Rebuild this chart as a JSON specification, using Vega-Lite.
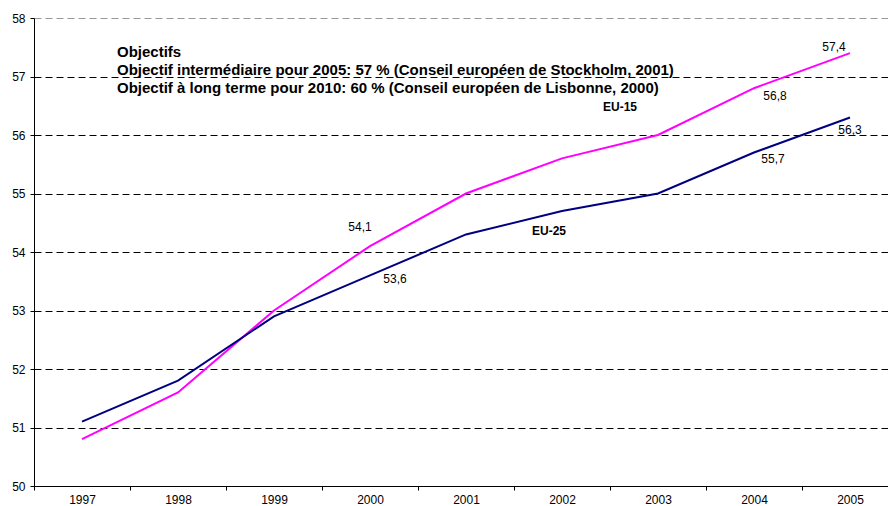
{
  "$schema": "https://vega.github.io/schema/vega-lite/v6.json",
  "autosize": {"type": "none"},
  "padding": {"left": 34, "top": 18, "right": 0, "bottom": 20},
  "width": 864,
  "height": 468,
  "background": "white",
  "config": {
    "view": {"stroke": null},
    "font": "Liberation Sans",
    "locale": {"number": {"decimal": ",", "thousands": " ", "grouping": [3], "currency": ["", " €"]}},
    "axis": {"labelFont": "Liberation Sans", "labelFontSize": 12, "labelColor": "#000", "domainColor": "#000", "tickColor": "#000", "title": null}
  },
  "data": {"values": [
    {"year": "1997", "series": "EU-15", "value": 50.8},
    {"year": "1998", "series": "EU-15", "value": 51.6},
    {"year": "1999", "series": "EU-15", "value": 53.0},
    {"year": "2000", "series": "EU-15", "value": 54.1},
    {"year": "2001", "series": "EU-15", "value": 55.0},
    {"year": "2002", "series": "EU-15", "value": 55.6},
    {"year": "2003", "series": "EU-15", "value": 56.0},
    {"year": "2004", "series": "EU-15", "value": 56.8},
    {"year": "2005", "series": "EU-15", "value": 57.4},
    {"year": "1997", "series": "EU-25", "value": 51.1},
    {"year": "1998", "series": "EU-25", "value": 51.8},
    {"year": "1999", "series": "EU-25", "value": 52.9},
    {"year": "2000", "series": "EU-25", "value": 53.6},
    {"year": "2001", "series": "EU-25", "value": 54.3},
    {"year": "2002", "series": "EU-25", "value": 54.7},
    {"year": "2003", "series": "EU-25", "value": 55.0},
    {"year": "2004", "series": "EU-25", "value": 55.7},
    {"year": "2005", "series": "EU-25", "value": 56.3}
  ]},
  "encoding": {
    "x": {"field": "year", "type": "ordinal", "scale": {"type": "band", "paddingInner": 0, "paddingOuter": 0},
          "axis": {"labelAngle": 0, "tickBand": "extent", "tickSize": 4, "labelPadding": 4, "grid": false}},
    "y": {"field": "value", "type": "quantitative", "scale": {"domain": [50, 58], "nice": false, "zero": false},
          "axis": {"values": [50, 51, 52, 53, 54, 55, 56, 57, 58], "format": "d", "tickSize": 4, "labelPadding": 5, "grid": true, "gridDash": [7, 4],
                   "gridColor": {"condition": {"test": "datum.value === 58", "value": "#999999"}, "value": "#000000"}}}
  },
  "layer": [
    {"mark": {"type": "line", "strokeWidth": 2},
     "encoding": {"color": {"field": "series", "type": "nominal", "scale": {"domain": ["EU-15", "EU-25"], "range": ["#FF00FF", "#000080"]}, "legend": null}}},
    {"transform": [{"filter": "datum.series === 'EU-15' && datum.year === '2000'"}],
     "mark": {"type": "text", "fontSize": 12, "color": "#000", "dx": -10, "dy": -19},
     "encoding": {"text": {"field": "value", "type": "quantitative", "format": ".1f"}}},
    {"transform": [{"filter": "datum.series === 'EU-15' && datum.year === '2004'"}],
     "mark": {"type": "text", "fontSize": 12, "color": "#000", "dx": 21, "dy": 8},
     "encoding": {"text": {"field": "value", "type": "quantitative", "format": ".1f"}}},
    {"transform": [{"filter": "datum.series === 'EU-15' && datum.year === '2005'"}],
     "mark": {"type": "text", "fontSize": 12, "color": "#000", "dx": -16, "dy": -6},
     "encoding": {"text": {"field": "value", "type": "quantitative", "format": ".1f"}}},
    {"transform": [{"filter": "datum.series === 'EU-25' && datum.year === '2000'"}],
     "mark": {"type": "text", "fontSize": 12, "color": "#000", "dx": 25, "dy": 4},
     "encoding": {"text": {"field": "value", "type": "quantitative", "format": ".1f"}}},
    {"transform": [{"filter": "datum.series === 'EU-25' && datum.year === '2004'"}],
     "mark": {"type": "text", "fontSize": 12, "color": "#000", "dx": 19, "dy": 6},
     "encoding": {"text": {"field": "value", "type": "quantitative", "format": ".1f"}}},
    {"transform": [{"filter": "datum.series === 'EU-25' && datum.year === '2005'"}],
     "mark": {"type": "text", "fontSize": 12, "color": "#000", "dx": 0, "dy": 13},
     "encoding": {"text": {"field": "value", "type": "quantitative", "format": ".1f"}}},
    {"transform": [{"filter": "datum.series === 'EU-15' && datum.year === '2003'"}],
     "mark": {"type": "text", "fontSize": 12, "fontWeight": "bold", "color": "#000", "dx": -38, "dy": -28},
     "encoding": {"text": {"field": "series", "type": "nominal"}}},
    {"transform": [{"filter": "datum.series === 'EU-25' && datum.year === '2002'"}],
     "mark": {"type": "text", "fontSize": 12, "fontWeight": "bold", "color": "#000", "dx": -13, "dy": 20},
     "encoding": {"text": {"field": "series", "type": "nominal"}}},
    {"data": {"values": [{"year": "1997", "value": 57.333, "note": "Objectifs\nObjectif intermédiaire pour 2005: 57 % (Conseil européen de Stockholm, 2001)\nObjectif à long terme pour 2010: 60 % (Conseil européen de Lisbonne, 2000)"}]},
     "mark": {"type": "text", "fontSize": 15, "fontWeight": "bold", "color": "#000", "align": "left", "baseline": "alphabetic", "dx": 35, "lineBreak": "\n", "lineHeight": 18},
     "encoding": {"text": {"field": "note", "type": "nominal"}}}
  ]
}
